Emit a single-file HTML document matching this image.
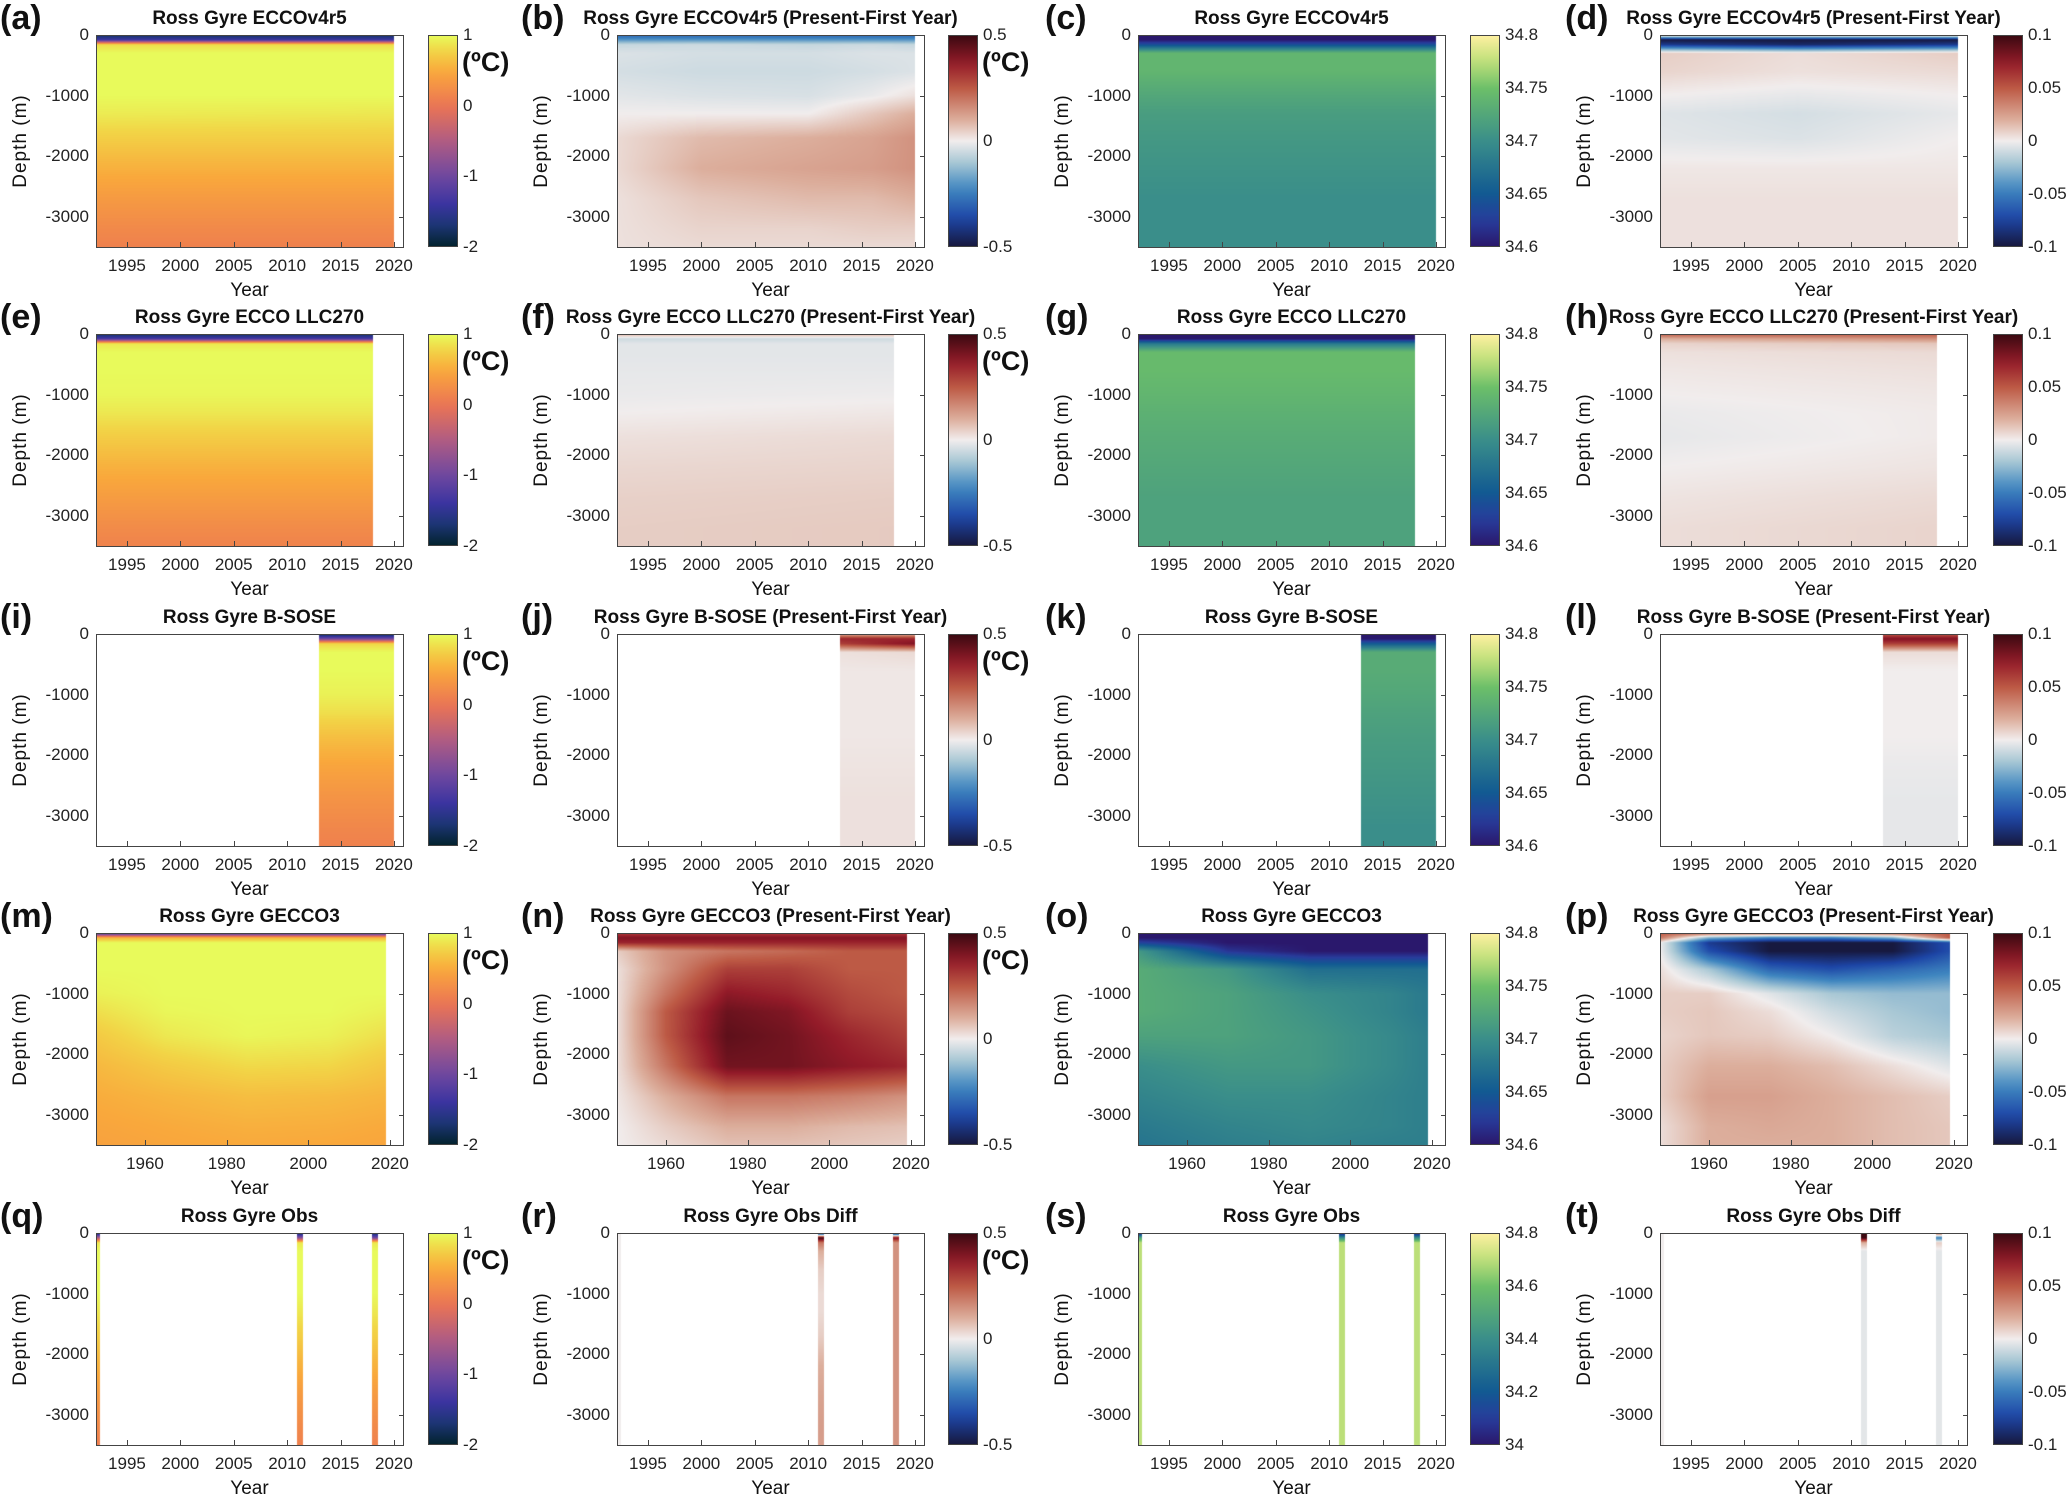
<!DOCTYPE html>
<html><head><meta charset="utf-8">
<style>
body{margin:0;background:#fff;}
#fig{position:relative;width:2067px;height:1499px;overflow:hidden;background:#fff;font-family:"Liberation Sans",Arial,sans-serif;color:#111;}
.abs{position:absolute;}
.tick{position:absolute;font-size:17px;white-space:nowrap;color:#222;}
.ttl{position:absolute;font-size:19px;font-weight:bold;white-space:nowrap;transform:translateX(-50%);}
.let{position:absolute;font-size:34px;font-weight:bold;}
.unit{position:absolute;font-size:27px;font-weight:bold;}
.ylab{position:absolute;font-size:19px;transform:translate(-50%,-50%) rotate(-90deg);white-space:nowrap;letter-spacing:1px;}
.xlab{position:absolute;font-size:19px;transform:translateX(-50%);}
canvas{position:absolute;}
.box{position:absolute;border:1px solid #444;box-sizing:border-box;}
</style></head><body>
<div id="fig"></div>
<script>
// ---- shared data ----
const DEPTHS=[0,-80,-160,-300,-600,-1000,-1300,-1700,-2200,-2700,-3200,-3500];
const YT_MODERN=[1995,2000,2005,2010,2015,2020];
const YT_GECCO=[1960,1980,2000,2020];
const DEPTH_TICKS=[0,-1000,-2000,-3000];
const T_TICKS=[1,0,-1,-2];
const DT_TICKS=[0.5,0,-0.5];
const S_TICKS=[34.8,34.75,34.7,34.65,34.6];
const DS_TICKS=[0.1,0.05,0,-0.05,-0.1];
const SOBS_TICKS=[34.8,34.6,34.4,34.2,34];
const a_years=[1992,2020];
const a_vals=[[-1.8,-1.8],[-1.4,-1.4],[0.85,0.85],[1,1],[1,1],[1,1],[0.92,0.9],[0.75,0.75],[0.55,0.55],[0.36,0.36],[0.2,0.2],[0.12,0.12]];
const b_years=[1992,2000,2010,2016,2020];
const b_vals=[[-0.3,-0.3,-0.3,-0.3,-0.3],[-0.2,-0.2,-0.2,-0.2,-0.2],[-0.06,-0.05,-0.06,-0.05,-0.06],[-0.03,-0.04,-0.04,-0.03,-0.03],[-0.04,-0.05,-0.05,-0.04,-0.03],[-0.02,-0.03,-0.035,-0.01,0.02],[0,0,0,0.06,0.1],[0.03,0.08,0.1,0.12,0.15],[0.03,0.1,0.12,0.13,0.15],[0.02,0.06,0.08,0.08,0.1],[0.02,0.04,0.04,0.05,0.05],[0.02,0.03,0.03,0.03,0.03]];
const c_years=[1992,2020];
const c_vals=[[34.6,34.6],[34.6,34.6],[34.64,34.64],[34.74,34.74],[34.74,34.74],[34.725,34.725],[34.715,34.715],[34.71,34.71],[34.705,34.705],[34.7,34.7],[34.7,34.7],[34.7,34.7]];
const d_years=[1992,2005,2020];
const d_vals=[[0.02,0.02,0.02],[-0.1,-0.1,-0.1],[-0.08,-0.09,-0.08],[0.01,0.005,0.01],[0.008,0.004,0.006],[0,-0.003,0],[-0.005,-0.008,-0.003],[-0.004,-0.006,0],[0.002,0.002,0.002],[0.004,0.004,0.004],[0.004,0.004,0.004],[0.004,0.004,0.004]];
const e_years=[1992,2018];
const e_vals=[[-1.8,-1.8],[-1.3,-1.3],[0.9,0.9],[1,1],[1,1],[0.98,0.98],[0.9,0.9],[0.74,0.74],[0.55,0.55],[0.38,0.38],[0.22,0.22],[0.14,0.14]];
const f_years=[1992,2018];
const f_vals=[[0.1,0.1],[-0.05,-0.05],[-0.02,-0.02],[-0.02,-0.02],[-0.015,-0.015],[-0.01,-0.005],[0,0.01],[0.02,0.03],[0.035,0.04],[0.045,0.05],[0.05,0.055],[0.05,0.055]];
const h_years=[1992,2018];
const h_vals=[[0.05,0.05],[0.02,0.03],[0.008,0.012],[0.004,0.006],[0.002,0.004],[0,0.002],[-0.002,0.001],[-0.003,0.001],[0,0.003],[0.003,0.006],[0.005,0.008],[0.005,0.008]];
const g_years=[1992,2018];
const g_vals=[[34.6,34.6],[34.6,34.6],[34.68,34.68],[34.745,34.745],[34.745,34.745],[34.74,34.74],[34.735,34.735],[34.73,34.73],[34.725,34.725],[34.72,34.72],[34.72,34.72],[34.72,34.72]];
const i_years=[2013,2020];
const i_vals=[[-1.9,-1.9],[-1.0,-1.0],[0.8,0.8],[1,1],[1,1],[0.95,0.95],[0.85,0.85],[0.65,0.65],[0.45,0.45],[0.3,0.3],[0.18,0.18],[0.12,0.12]];
const j_years=[2013,2020];
const j_vals=[[0.1,0.1],[0.35,0.35],[0.3,0.4],[0.02,0.03],[0.01,0.01],[0.01,0.01],[0.01,0.01],[0.01,0.01],[0.015,0.015],[0.02,0.02],[0.02,0.02],[0.02,0.02]];
const k_years=[2013,2020];
const k_vals=[[34.6,34.6],[34.6,34.6],[34.65,34.65],[34.73,34.73],[34.73,34.73],[34.725,34.725],[34.72,34.72],[34.715,34.715],[34.71,34.71],[34.705,34.705],[34.7,34.7],[34.7,34.7]];
const l_years=[2013,2020];
const l_vals=[[0.05,0.05],[0.08,0.08],[0.06,0.06],[0.005,0.005],[0,0],[0,0],[0,0],[0,0],[-0.002,-0.002],[-0.003,-0.003],[-0.003,-0.003],[-0.003,-0.003]];
const m_years=[1948,1965,1985,2005,2019];
const m_vals=[[-1.5,-1.5,-1.5,-1.5,-1.5],[0.6,0.6,0.6,0.6,0.6],[1,1,1,1,1],[1,1,1,1,1],[1,1,1,1,1],[0.95,1,1,1,1],[0.85,0.98,1,1,0.95],[0.72,0.9,0.98,0.95,0.85],[0.6,0.72,0.82,0.8,0.7],[0.52,0.58,0.64,0.62,0.58],[0.46,0.5,0.54,0.53,0.5],[0.43,0.47,0.5,0.49,0.47]];
const n_years=[1948,1960,1975,1990,2005,2019];
const n_vals=[[0.3,0.3,0.3,0.3,0.3,0.3],[0.4,0.4,0.4,0.4,0.4,0.4],[0.35,0.35,0.35,0.35,0.35,0.35],[0.05,0.15,0.2,0.22,0.25,0.25],[0.02,0.15,0.3,0.3,0.25,0.25],[0.02,0.2,0.38,0.35,0.28,0.25],[0.02,0.25,0.43,0.4,0.3,0.27],[0.02,0.25,0.45,0.42,0.35,0.3],[0.02,0.2,0.42,0.42,0.38,0.35],[0.01,0.1,0.2,0.2,0.18,0.15],[0,0.05,0.1,0.1,0.08,0.07],[0,0.03,0.07,0.07,0.06,0.05]];
const o_years=[1948,1970,1990,2010,2019];
const o_vals=[[34.6,34.6,34.6,34.6,34.6],[34.6,34.6,34.6,34.6,34.6],[34.63,34.6,34.6,34.6,34.6],[34.71,34.62,34.6,34.6,34.6],[34.73,34.71,34.67,34.67,34.67],[34.73,34.72,34.7,34.69,34.68],[34.73,34.72,34.705,34.69,34.68],[34.72,34.72,34.71,34.695,34.685],[34.7,34.71,34.71,34.695,34.685],[34.69,34.7,34.7,34.69,34.685],[34.68,34.69,34.695,34.69,34.685],[34.675,34.685,34.69,34.685,34.685]];
const p_years=[1948,1960,1975,1990,2005,2019];
const p_vals=[[0.05,0.05,0.05,0.05,0.05,0.05],[0.04,-0.03,-0.05,-0.05,-0.03,0.05],[0,-0.08,-0.1,-0.1,-0.1,-0.07],[0,-0.07,-0.1,-0.1,-0.1,-0.07],[0.005,-0.02,-0.06,-0.07,-0.06,-0.05],[0.01,0.01,-0.005,-0.02,-0.025,-0.025],[0.01,0.012,0.005,-0.01,-0.02,-0.025],[0.008,0.012,0.01,0,-0.015,-0.02],[0.01,0.02,0.02,0.015,0.005,-0.005],[0.01,0.025,0.025,0.02,0.015,0.01],[0.005,0.02,0.022,0.02,0.015,0.012],[0.005,0.02,0.02,0.02,0.015,0.012]];
const OBS_YEARS=[1992.2,2011.2,2018.2];
const q_vals=[[-1.8,-1.8,-1.8],[-0.5,-0.8,-1.0],[0.9,0.9,0.9],[1,1,1],[1,1,1],[1,1,1],[0.9,0.9,0.9],[0.75,0.75,0.75],[0.55,0.55,0.55],[0.35,0.35,0.35],[0.2,0.2,0.2],[0.1,0.12,0.12]];
const r_vals=[[0,-0.5,-0.5],[0,0.5,0.4],[0,0.2,0.15],[0,0.1,0.15],[0,0.05,0.15],[0,0.03,0.15],[0,0.03,0.15],[0,0.05,0.15],[0,0.1,0.15],[0,0.12,0.15],[0,0.13,0.15],[0,0.13,0.15]];
const s_vals=[[34.0,34.0,34.0],[34.5,34.4,34.4],[34.7,34.7,34.7],[34.7,34.7,34.7],[34.7,34.7,34.7],[34.7,34.7,34.7],[34.7,34.7,34.7],[34.7,34.7,34.7],[34.7,34.7,34.7],[34.7,34.7,34.7],[34.7,34.7,34.7],[34.7,34.7,34.7]];
const t_vals=[[0,0.1,0.05],[0,0.1,-0.05],[0,0.02,0.01],[0,-0.004,-0.004],[0,-0.004,-0.004],[0,-0.004,-0.004],[0,-0.004,-0.004],[0,-0.004,-0.004],[0,-0.004,-0.004],[0,-0.004,-0.004],[0,-0.004,-0.004],[0,-0.004,-0.004]];

const THERMAL=[[0,'#03232f'],[0.1,'#1d3575'],[0.2,'#3b34a0'],[0.33,'#6e48a0'],[0.5,'#b05c82'],[0.67,'#ec7553'],[0.83,'#f9a83c'],[0.93,'#f2d446'],[1,'#e8fa5b']];
const BALANCE=[[0,'#17193f'],[0.13,'#1d45a6'],[0.27,'#3f86c0'],[0.4,'#a9c8d5'],[0.5,'#f1eded'],[0.6,'#dcae9c'],[0.75,'#bd5a45'],[0.87,'#941b29'],[1,'#3c0911']];
const HALINE=[[0,'#2a186c'],[0.12,'#283c9c'],[0.25,'#125a92'],[0.5,'#3a8e8a'],[0.75,'#6cbf69'],[0.88,'#bfe07a'],[1,'#fdf0a0']];
function hex(h){return [parseInt(h.substr(1,2),16),parseInt(h.substr(3,2),16),parseInt(h.substr(5,2),16)];}
function cmap(stops,t){t=Math.max(0,Math.min(1,t));for(let i=1;i<stops.length;i++){if(t<=stops[i][0]){const a=hex(stops[i-1][1]),b=hex(stops[i][1]);const f=(t-stops[i-1][0])/(stops[i][0]-stops[i-1][0]);return [0,1,2].map(k=>Math.round(a[k]+(b[k]-a[k])*f));}}return hex(stops[stops.length-1][1]);}

const fig=document.getElementById('fig');
function add(tag,cls,name,style,text){const e=document.createElement(tag);if(cls)e.className=cls;


if(style)e.style.cssText=style;if(text!==undefined)e.textContent=text;fig.appendChild(e);return e;}

const COLX=[96,617,1138,1660], CBX=[428,948,1470,1993], ROWY=[35,334,634,933,1233];
const AW=307, AH=212, CBW=30;
function interp(arr,v){
  if(v<=arr[0])return [0,0]; for(let i=1;i<arr.length;i++){if(v<=arr[i])return [i-1,(v-arr[i-1])/(arr[i]-arr[i-1])];} return [arr.length-2,1];}
function interpDepth(z){
  for(let i=1;i<DEPTHS.length;i++){if(z>=DEPTHS[i])return [i-1,(DEPTHS[i-1]-z)/(DEPTHS[i-1]-DEPTHS[i])];}return [DEPTHS.length-2,1];}

function panel(o){
  const x0=COLX[o.col], y0=ROWY[o.row];
  const xl=o.xlim, xs=v=>x0+(v-xl[0])/(xl[1]-xl[0])*AW;
  const ys=z=>y0+(-z)/3500*AH;
  const cv=add('canvas','','heatmap-'+o.id,`left:${x0}px;top:${y0}px;`);
  cv.width=AW;cv.height=AH;
  const ctx=cv.getContext('2d');const img=ctx.createImageData(AW,AH);
  const draw=(px,py,col)=>{const k=(py*AW+px)*4;img.data[k]=col[0];img.data[k+1]=col[1];img.data[k+2]=col[2];img.data[k+3]=255;};
  for(let py=0;py<AH;py++){
    const z=-(py+0.5)/AH*3500; const [di,df]=interpDepth(z);
    if(o.obs){
      o.obsYears.forEach((yr,c)=>{const v=o.vals[di][c]*(1-df)+o.vals[di+1][c]*df;
        const col=cmap(o.cm,(v-o.vmin)/(o.vmax-o.vmin));const cx=Math.round(xs(yr)-x0);
        for(let px=cx-3;px<cx+3;px++)if(px>=0&&px<AW)draw(px,py,col);});
    } else {
      const a=xs(o.years[0])-x0, b=xs(o.years[o.years.length-1])-x0;
      for(let px=Math.max(0,Math.floor(a));px<Math.min(AW,Math.ceil(b));px++){
        const yr=xl[0]+(px+0.5)/AW*(xl[1]-xl[0]);
        const [ti,tf]=interp(o.years,yr);
        const v0=o.vals[di][ti]*(1-tf)+o.vals[di][ti+1]*tf, v1=o.vals[di+1][ti]*(1-tf)+o.vals[di+1][ti+1]*tf;
        const v=v0*(1-df)+v1*df;
        draw(px,py,cmap(o.cm,(v-o.vmin)/(o.vmax-o.vmin)));
      }
    }
  }
  ctx.putImageData(img,0,0);
  add('div','box','axes-frame-'+o.id,`left:${x0}px;top:${y0}px;width:${AW+1}px;height:${AH+1}px;`);
  o.xt.forEach(t=>{const x=xs(t);
    add('div','abs','x-tick-mark',`left:${x}px;top:${y0+AH-5}px;width:1px;height:5px;background:#444;`);
    add('div','tick','x-tick-label',`left:${x}px;top:${y0+AH+9}px;transform:translateX(-50%);`,String(t));});
  DEPTH_TICKS.forEach(t=>{const y=ys(t);
    add('div','abs','y-tick-mark',`left:${x0+AW-4}px;top:${y}px;width:4px;height:1px;background:#444;`);
    add('div','tick','y-tick-label',`right:${2067-x0+7}px;top:${y-10}px;`,String(t));});
  add('div','xlab','x-axis-title',`left:${x0+AW/2}px;top:${y0+AH+33}px;`,'Year');
  add('div','ylab','y-axis-title',`left:${x0-75}px;top:${y0+AH/2}px;`,'Depth (m)');
  add('div','ttl','panel-title',`left:${x0+AW/2}px;top:${y0-27}px;`,o.title);
  const lx=[0,521,1045,1565][o.col];
  add('div','let','panel-label',`left:${lx}px;top:${y0-36}px;`,'('+o.id+')');
  const cx=CBX[o.col];
  const cb=add('div','abs','colorbar-'+o.id,`left:${cx}px;top:${y0}px;width:${CBW}px;height:${AH}px;border:1px solid #444;box-sizing:border-box;`);
  const grad=[];for(let i=0;i<=20;i++){const c=cmap(o.cm,1-i/20);grad.push(`rgb(${c})`+' '+(i*5)+'%');}
  cb.style.background='linear-gradient(to bottom,'+grad.join(',')+')';
  o.ct.forEach(t=>{const y=y0+(o.vmax-t)/(o.vmax-o.vmin)*AH;
    add('div','tick','colorbar-tick-label',`left:${cx+CBW+5}px;top:${y-10}px;`,String(t));});
  if(o.unit)add('div','unit','colorbar-unit',`left:${cx+CBW+4}px;top:${y0+12}px;`,'(ºC)');
}
const XM=[1992.1,2020.85], XG=[1948,2023.2];
const P=[
 {id:'a',row:0,col:0,title:'Ross Gyre ECCOv4r5',years:a_years,vals:a_vals,cm:THERMAL,vmin:-2,vmax:1,ct:T_TICKS,unit:1},
 {id:'b',row:0,col:1,title:'Ross Gyre ECCOv4r5 (Present-First Year)',years:b_years,vals:b_vals,cm:BALANCE,vmin:-0.5,vmax:0.5,ct:DT_TICKS,unit:1},
 {id:'c',row:0,col:2,title:'Ross Gyre ECCOv4r5',years:c_years,vals:c_vals,cm:HALINE,vmin:34.6,vmax:34.8,ct:S_TICKS},
 {id:'d',row:0,col:3,title:'Ross Gyre ECCOv4r5 (Present-First Year)',years:d_years,vals:d_vals,cm:BALANCE,vmin:-0.1,vmax:0.1,ct:DS_TICKS},
 {id:'e',row:1,col:0,title:'Ross Gyre ECCO LLC270',years:e_years,vals:e_vals,cm:THERMAL,vmin:-2,vmax:1,ct:T_TICKS,unit:1},
 {id:'f',row:1,col:1,title:'Ross Gyre ECCO LLC270 (Present-First Year)',years:f_years,vals:f_vals,cm:BALANCE,vmin:-0.5,vmax:0.5,ct:DT_TICKS,unit:1},
 {id:'g',row:1,col:2,title:'Ross Gyre ECCO LLC270',years:g_years,vals:g_vals,cm:HALINE,vmin:34.6,vmax:34.8,ct:S_TICKS},
 {id:'h',row:1,col:3,title:'Ross Gyre ECCO LLC270 (Present-First Year)',years:h_years,vals:h_vals,cm:BALANCE,vmin:-0.1,vmax:0.1,ct:DS_TICKS},
 {id:'i',row:2,col:0,title:'Ross Gyre B-SOSE',years:i_years,vals:i_vals,cm:THERMAL,vmin:-2,vmax:1,ct:T_TICKS,unit:1},
 {id:'j',row:2,col:1,title:'Ross Gyre B-SOSE (Present-First Year)',years:j_years,vals:j_vals,cm:BALANCE,vmin:-0.5,vmax:0.5,ct:DT_TICKS,unit:1},
 {id:'k',row:2,col:2,title:'Ross Gyre B-SOSE',years:k_years,vals:k_vals,cm:HALINE,vmin:34.6,vmax:34.8,ct:S_TICKS},
 {id:'l',row:2,col:3,title:'Ross Gyre B-SOSE (Present-First Year)',years:l_years,vals:l_vals,cm:BALANCE,vmin:-0.1,vmax:0.1,ct:DS_TICKS},
 {id:'m',row:3,col:0,title:'Ross Gyre GECCO3',years:m_years,vals:m_vals,cm:THERMAL,vmin:-2,vmax:1,ct:T_TICKS,unit:1,g:1},
 {id:'n',row:3,col:1,title:'Ross Gyre GECCO3 (Present-First Year)',years:n_years,vals:n_vals,cm:BALANCE,vmin:-0.5,vmax:0.5,ct:DT_TICKS,unit:1,g:1},
 {id:'o',row:3,col:2,title:'Ross Gyre GECCO3',years:o_years,vals:o_vals,cm:HALINE,vmin:34.6,vmax:34.8,ct:S_TICKS,g:1},
 {id:'p',row:3,col:3,title:'Ross Gyre GECCO3 (Present-First Year)',years:p_years,vals:p_vals,cm:BALANCE,vmin:-0.1,vmax:0.1,ct:DS_TICKS,g:1},
 {id:'q',row:4,col:0,title:'Ross Gyre Obs',obs:1,obsYears:OBS_YEARS,vals:q_vals,cm:THERMAL,vmin:-2,vmax:1,ct:T_TICKS,unit:1},
 {id:'r',row:4,col:1,title:'Ross Gyre Obs Diff',obs:1,obsYears:OBS_YEARS,vals:r_vals,cm:BALANCE,vmin:-0.5,vmax:0.5,ct:DT_TICKS,unit:1},
 {id:'s',row:4,col:2,title:'Ross Gyre Obs',obs:1,obsYears:OBS_YEARS,vals:s_vals,cm:HALINE,vmin:34,vmax:34.8,ct:SOBS_TICKS},
 {id:'t',row:4,col:3,title:'Ross Gyre Obs Diff',obs:1,obsYears:OBS_YEARS,vals:t_vals,cm:BALANCE,vmin:-0.1,vmax:0.1,ct:DS_TICKS}
];
P.forEach(o=>{o.xlim=o.g?XG:XM;o.xt=o.g?YT_GECCO:YT_MODERN;panel(o);});
</script>
</body></html>
